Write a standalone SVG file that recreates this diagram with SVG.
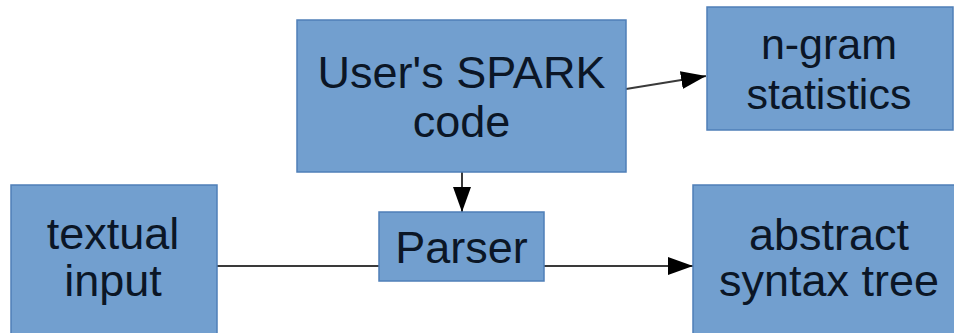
<svg xmlns="http://www.w3.org/2000/svg" width="954" height="333" viewBox="0 0 954 333">
  <style>
    .box { fill: #729fcf; stroke: #4f7fb8; stroke-width: 1.5; }
    .lbl { font-family: "Liberation Sans", Arial, sans-serif; font-size: 45px; fill: #0b1626; text-anchor: middle; }
    .tight { font-size: 43px; }
    .edge { stroke: #3a3a3a; stroke-width: 2; fill: none; }
  </style>
  <defs>
    <marker id="arrow" markerUnits="userSpaceOnUse" markerWidth="25" markerHeight="18" refX="25" refY="9" orient="auto">
      <path d="M0,0 L25,9 L0,18 z" fill="#000"/>
    </marker>
  </defs>
  <rect width="954" height="333" fill="#fff"/>

  <g id="connectors">
    <line class="edge" x1="626" y1="89" x2="706" y2="76" marker-end="url(#arrow)"/>
    <line class="edge" x1="462" y1="172" x2="462" y2="212" marker-end="url(#arrow)"/>
    <line class="edge" x1="217" y1="266" x2="379" y2="266"/>
    <line class="edge" x1="544" y1="266" x2="693" y2="266" marker-end="url(#arrow)"/>
  </g>

  <g id="spark-code">
    <rect class="box" x="297" y="20" width="329" height="152"/>
    <text class="lbl" x="461.5" y="88">User's SPARK</text>
    <text class="lbl" x="461.5" y="137">code</text>
  </g>

  <g id="ngram-stats">
    <rect class="box" x="707" y="7" width="246" height="123"/>
    <text class="lbl tight" x="829" y="59">n-gram</text>
    <text class="lbl tight" x="829" y="109">statistics</text>
  </g>

  <g id="textual-input">
    <rect class="box" x="11" y="185" width="206" height="160"/>
    <text class="lbl" x="113" y="249">textual</text>
    <text class="lbl" x="113" y="296">input</text>
  </g>

  <g id="parser">
    <rect class="box" x="379" y="212" width="165" height="69"/>
    <text class="lbl" x="461.5" y="263">Parser</text>
  </g>

  <g id="ast">
    <rect class="box" x="693" y="185" width="272" height="160"/>
    <text class="lbl" x="829" y="250">abstract</text>
    <text class="lbl" x="829" y="296">syntax tree</text>
  </g>
</svg>
